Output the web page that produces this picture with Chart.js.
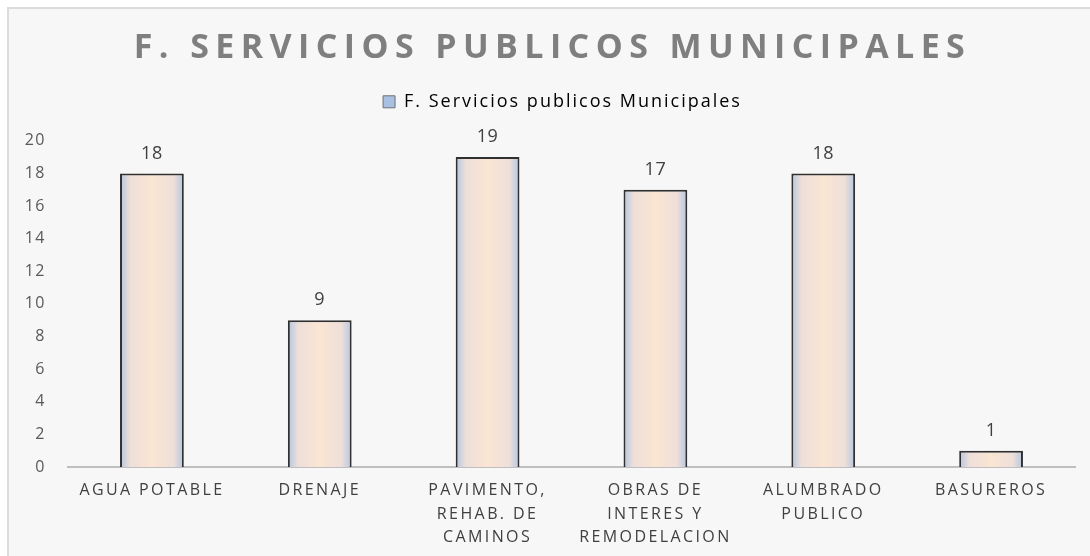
<!DOCTYPE html>
<html>
<head>
<meta charset="utf-8">
<script src="https://cdn.jsdelivr.net/npm/chart.js@4/dist/chart.umd.min.js"></script>
<style>
  html, body { margin: 0; padding: 0; background: #ffffff; }
  #frame { position: absolute; left: 7px; top: 7px; width: 1090px; height: 560px;
           background: #f7f7f7; border-left: 2px solid #dcdcdc; border-top: 2px solid #dcdcdc; }
  #wrap { position: absolute; left: 0; top: 0; width: 1090px; height: 556px; }
</style>
</head>
<body>
<div id="frame"></div>
<div id="wrap"><canvas id="c" width="1090" height="556"></canvas></div>
<script>
const chartTitle = 'F. SERVICIOS PUBLICOS MUNICIPALES';
const seriesName = 'F. Servicios publicos Municipales';
const categories = [
  ['AGUA POTABLE'],
  ['DRENAJE'],
  ['PAVIMENTO,', 'REHAB. DE', 'CAMINOS'],
  ['OBRAS DE', 'INTERES Y', 'REMODELACION'],
  ['ALUMBRADO', 'PUBLICO'],
  ['BASUREROS']
];
const values = [18, 9, 19, 17, 18, 1];
const yTicks = [0, 2, 4, 6, 8, 10, 12, 14, 16, 18, 20];

const BAR_PCT = 0.38;

function barFill(ctx) {
  const chart = ctx.chart;
  if (ctx.type !== 'data' || !chart.chartArea || !chart.scales.x) return '#f6e3d3';
  const xs = chart.scales.x;
  const cx = xs.getPixelForValue(ctx.dataIndex);
  const w = (chart.chartArea.right - chart.chartArea.left) / categories.length * BAR_PCT;
  const g = chart.ctx.createLinearGradient(cx - w / 2, 0, cx + w / 2, 0);
  g.addColorStop(0, '#b3c5e1');
  g.addColorStop(0.16, '#eedfd9');
  g.addColorStop(0.5, '#fbe5d3');
  g.addColorStop(0.84, '#eedfd9');
  g.addColorStop(1, '#b3c5e1');
  return g;
}

function withSpacing(obj, name, sp, dx) {
  const key = '_sp_' + name;
  if (!obj || obj[key]) return;
  const f = obj[name];
  obj[name] = function (...a) {
    const c = this.ctx;
    c.save();
    c.letterSpacing = sp;
    if (dx) c.translate(dx, 0);
    const r = f.apply(this, a);
    c.restore();
    return r;
  };
  obj[key] = true;
}

const spacingPlugin = {
  id: 'spacing',
  beforeLayout(chart) {
    const lg = chart.legend;
    if (lg && !lg._extra) {
      const fit = lg.fit;
      lg.fit = function (...a) {
        const c = this.ctx;
        const prev = c.letterSpacing;
        c.letterSpacing = '2px';
        const r = fit.apply(this, a);
        c.letterSpacing = prev;
        this.height += 20;
        return r;
      };
      lg._extra = true;
      withSpacing(lg, 'draw', '2px', 25);
    }
  },
  afterLayout(chart) {
    withSpacing(chart.titleBlock, 'draw', '6.4px', 15);
    withSpacing(chart.scales.x, 'drawLabels', '2.4px', 0);
    withSpacing(chart.scales.y, 'drawLabels', '1.5px', 0);
  }
};

const valueLabels = {
  id: 'valueLabels',
  afterDatasetsDraw(chart) {
    const ctx = chart.ctx;
    const meta = chart.getDatasetMeta(0);
    ctx.save();
    ctx.font = '18px "Open Sans"';
    ctx.letterSpacing = '0.5px';
    ctx.fillStyle = '#404040';
    ctx.textAlign = 'center';
    ctx.textBaseline = 'middle';
    meta.data.forEach((bar, i) => {
      ctx.fillText(String(values[i]), bar.x, bar.y - 20);
    });
    ctx.restore();
  }
};

new Chart(document.getElementById('c'), {
  type: 'bar',
  data: {
    labels: categories,
    datasets: [{
      label: seriesName,
      data: values,
      backgroundColor: barFill,
      borderColor: '#303030',
      borderWidth: 2,
      borderSkipped: 'bottom',
      barPercentage: BAR_PCT,
      categoryPercentage: 1.0
    }]
  },
  options: {
    responsive: false,
    animation: false,
    layout: { padding: { top: 0, right: 15, left: 0, bottom: 0 } },
    plugins: {
      tooltip: { enabled: false },
      title: {
        display: true,
        text: chartTitle,
        color: '#7f7f7f',
        font: { family: '"Open Sans"', size: 34, weight: 'bold', lineHeight: 1.2 },
        padding: { top: 28, bottom: 14 }
      },
      legend: {
        display: true,
        position: 'top',
        labels: {
          color: '#404040',
          font: { family: '"Open Sans"', size: 18 },
          boxWidth: 12,
          boxHeight: 12,
          padding: 10,
          generateLabels: () => [{
            text: seriesName,
            fillStyle: '#a9c0e3',
            strokeStyle: '#6f6f6f',
            lineWidth: 1,
            hidden: false,
            datasetIndex: 0
          }]
        }
      }
    },
    scales: {
      x: {
        grid: { display: false, drawTicks: false },
        border: { display: true, color: '#bfbfbf', width: 2 },
        ticks: {
          color: '#404040',
          font: { family: '"Open Sans"', size: 16, lineHeight: 1.47 },
          padding: 12,
          maxRotation: 0,
          autoSkip: false
        },
        afterFit(s) { s.height = 89; }
      },
      y: {
        min: 0,
        max: 20,
        afterBuildTicks(s) { s.ticks = yTicks.map(v => ({ value: v })); },
        grid: { display: false, drawTicks: false },
        border: { display: false },
        ticks: {
          color: '#595959',
          font: { family: '"Open Sans"', size: 16 },
          padding: 22
        },
        afterFit(s) { s.width = 68; }
      }
    }
  },
  plugins: [spacingPlugin, valueLabels]
});
</script>
</body>
</html>
